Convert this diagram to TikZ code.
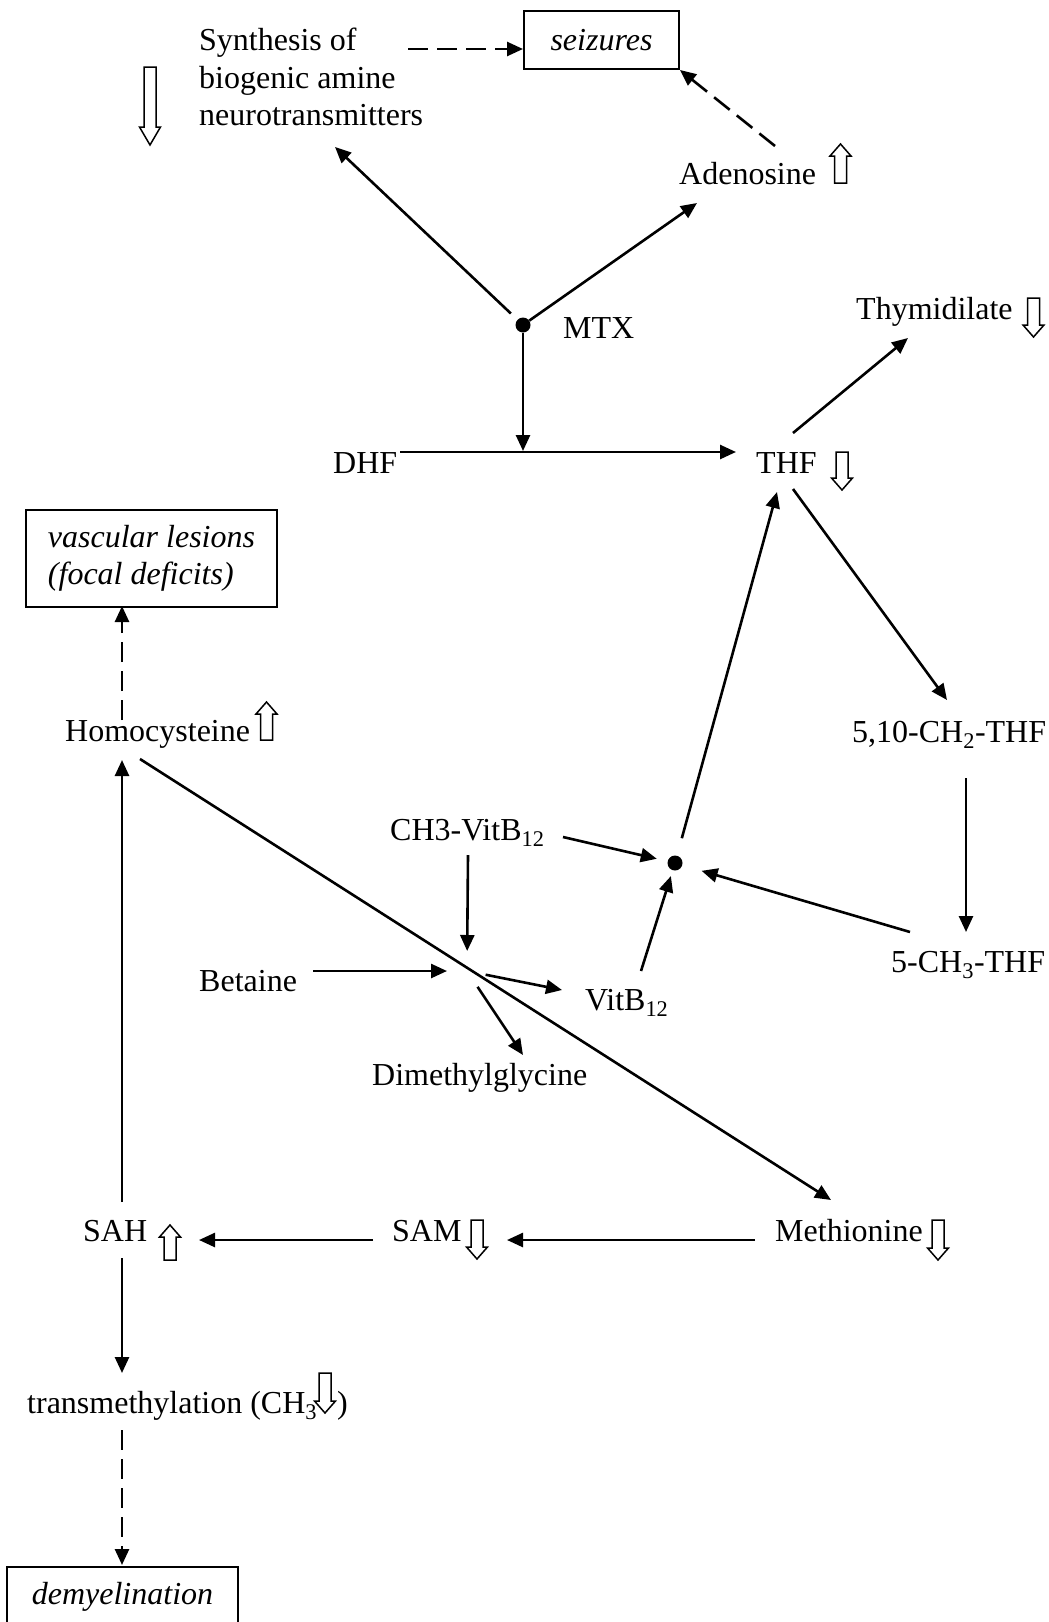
\documentclass[tikz,border=0pt]{standalone}
\usepackage{fontspec}
\setmainfont{Liberation Serif}
\usetikzlibrary{arrows.meta,calc}
\newcommand\hollowdn[4]{\draw[hollow] (#1-6,#2) -- (#1+6,#2) -- (#1+6,#3-#4) -- (#1+10.5,#3-#4) -- (#1,#3) -- (#1-10.5,#3-#4) -- (#1-6,#3-#4) -- cycle;}
\newcommand\hollowup[4]{\draw[hollow] (#1,#2) -- (#1+10.5,#2+#4) -- (#1+6,#2+#4) -- (#1+6,#3) -- (#1-6,#3) -- (#1-6,#2+#4) -- (#1-10.5,#2+#4) -- cycle;}
\begin{document}
\begin{tikzpicture}[x=1pt,y=-1pt,
  font=\fontsize{32}{37.5}\selectfont,
  txt/.style={inner sep=0pt, anchor=base west},
  arr/.style={line width=2.6pt, -{Triangle[length=16pt,width=14pt]}},
  darr/.style={arr, dash pattern=on 20pt off 9pt},
  box/.style={draw, line width=2pt, inner sep=0pt, font=\fontsize{32}{37.5}\selectfont\itshape},
  hollow/.style={draw, line width=1.5pt, fill=white, line join=miter},
  jdot/.style={circle, fill, inner sep=0pt, minimum size=15pt}]
\useasboundingbox (0,0) rectangle (1049,1622);

% ---------- text nodes ----------
\node[inner sep=0pt, anchor=north west, align=left] (syn) at (199,28) {Synthesis of\\biogenic amine\\neurotransmitters};
\node[box, minimum width=155, minimum height=58] (seiz) at (601.5,40) {seizures};
\node[txt] (aden) at (679,184) {Adenosine};
\node[jdot] (jmtx) at (523,325) {};
\node[txt] (mtx) at (563,338) {MTX};
\node[txt] (thym) at (856,319) {Thymidilate};
\node[txt] (dhf) at (333,473) {DHF};
\node[txt] (thf) at (756,473) {THF};
\node[box, minimum width=251, minimum height=97, align=left, anchor=north west] (vasc) at (25,509) {vascular lesions\\(focal deficits)};
\node[txt] (homo) at (65,741) {Homocysteine};
\node[txt] (cth) at (852,742) {5,10-CH\textsubscript{2}-THF};
\node[txt] (ch3v) at (390,840) {CH3-VitB\textsubscript{12}};
\node[jdot] (dot2) at (675,863) {};
\node[txt] (mth) at (891,972) {5-CH\textsubscript{3}-THF};
\node[txt] (bet) at (199,991) {Betaine};
\coordinate (jct) at (467,971);
\node[txt] (vit) at (585,1010) {VitB\textsubscript{12}};
\node[txt] (dmg) at (372,1085) {Dimethylglycine};
\node[txt] (sah) at (83,1241) {SAH};
\node[txt] (sam) at (392,1241) {SAM};
\node[txt] (met) at (775,1241) {Methionine};
\node[txt] (trans) at (27,1413) {transmethylation (CH\textsubscript{3}};
\node[txt] (transr) at (337,1413) {)};
\node[box, minimum width=231, minimum height=60, anchor=north west] (demy) at (6,1566) {demyelination};

% ---------- connector end points ----------
\coordinate (syn-o) at (408,49);
\coordinate (seiz-i) at (523,49);
\coordinate (aden-o) at (775,146);
\coordinate (syn-i) at (335,147);
\coordinate (aden-i) at (697,203);
\coordinate (line-i) at (523,451);
\coordinate (dhf-o) at (400,452);
\coordinate (thf-i) at (736,452);
\coordinate (thf-o1) at (793,433);
\coordinate (thym-i) at (908,338);
\coordinate (thf-o2) at (793,489);
\coordinate (cth-i) at (947,700);
\coordinate (cth-o) at (966,778);
\coordinate (mth-i) at (966,932);
\coordinate (mth-o) at (910,932);
\coordinate (thf-i2) at (777,492);
\coordinate (ch3v-o1) at (563,837);
\coordinate (ch3v-o2) at (468,855);
\coordinate (bet-o) at (313,971);
\coordinate (vit-i) at (562,990);
\coordinate (dmg-i) at (523,1055);
\coordinate (vit-o) at (641,971);
\coordinate (homo-o) at (140,759);
\coordinate (met-i) at (831,1200);
\coordinate (homo-t) at (122,720);
\coordinate (vasc-i) at (122,606);
\coordinate (sah-t) at (122,1202);
\coordinate (homo-i) at (122,760);
\coordinate (sam-o) at (373,1240);
\coordinate (sah-i) at (199,1240);
\coordinate (met-o) at (755,1240);
\coordinate (sam-i) at (507,1240);
\coordinate (sah-b) at (122,1258);
\coordinate (trans-i) at (122,1373);
\coordinate (trans-o) at (122,1430);
\coordinate (demy-i) at (122,1565);

% ---------- connectors ----------
\draw[darr] (syn-o) -- (seiz-i);
\draw[darr] (aden-o) -- (seiz.south east);
\draw[arr, shorten <=9pt] (jmtx) -- (syn-i);
\draw[arr] (jmtx) -- (aden-i);
\draw[arr] (jmtx) -- (line-i);
\draw[arr] (dhf-o) -- (thf-i);
\draw[arr] (thf-o1) -- (thym-i);
\draw[arr] (thf-o2) -- (cth-i);
\draw[arr] (cth-o) -- (mth-i);
\draw[arr, shorten >=20pt] (mth-o) -- (dot2);
\draw[arr, shorten <=18pt] (dot2) -- (thf-i2);
\draw[arr, shorten >=11pt] (ch3v-o1) -- (dot2);
\draw[arr, shorten >=20pt] (ch3v-o2) -- (jct);
\draw[arr, shorten >=20pt] (bet-o) -- (jct);
\draw[arr, shorten <=19pt] (jct) -- (vit-i);
\draw[arr, shorten <=19pt] (jct) -- (dmg-i);
\draw[arr, shorten >=6pt] (vit-o) -- (dot2);
\draw[arr] (homo-o) -- (met-i);
\draw[darr] (homo-t) -- (vasc-i);
\draw[arr] (sah-t) -- (homo-i);
\draw[arr] (sam-o) -- (sah-i);
\draw[arr] (met-o) -- (sam-i);
\draw[arr] (sah-b) -- (trans-i);
\draw[darr] (trans-o) -- (demy-i);

% ---------- hollow up/down markers ----------
\hollowdn{150}{67}{145}{18}
\hollowup{840.5}{144}{183}{12}
\hollowdn{1033.5}{298}{337}{12}
\hollowdn{842}{452}{490}{12}
\hollowup{266.5}{702}{740}{12}
\hollowup{170}{1225}{1260}{12}
\hollowdn{477}{1220}{1259}{12}
\hollowdn{938}{1220}{1260}{12}
\hollowdn{325}{1373}{1413}{12}
\end{tikzpicture}
\end{document}
